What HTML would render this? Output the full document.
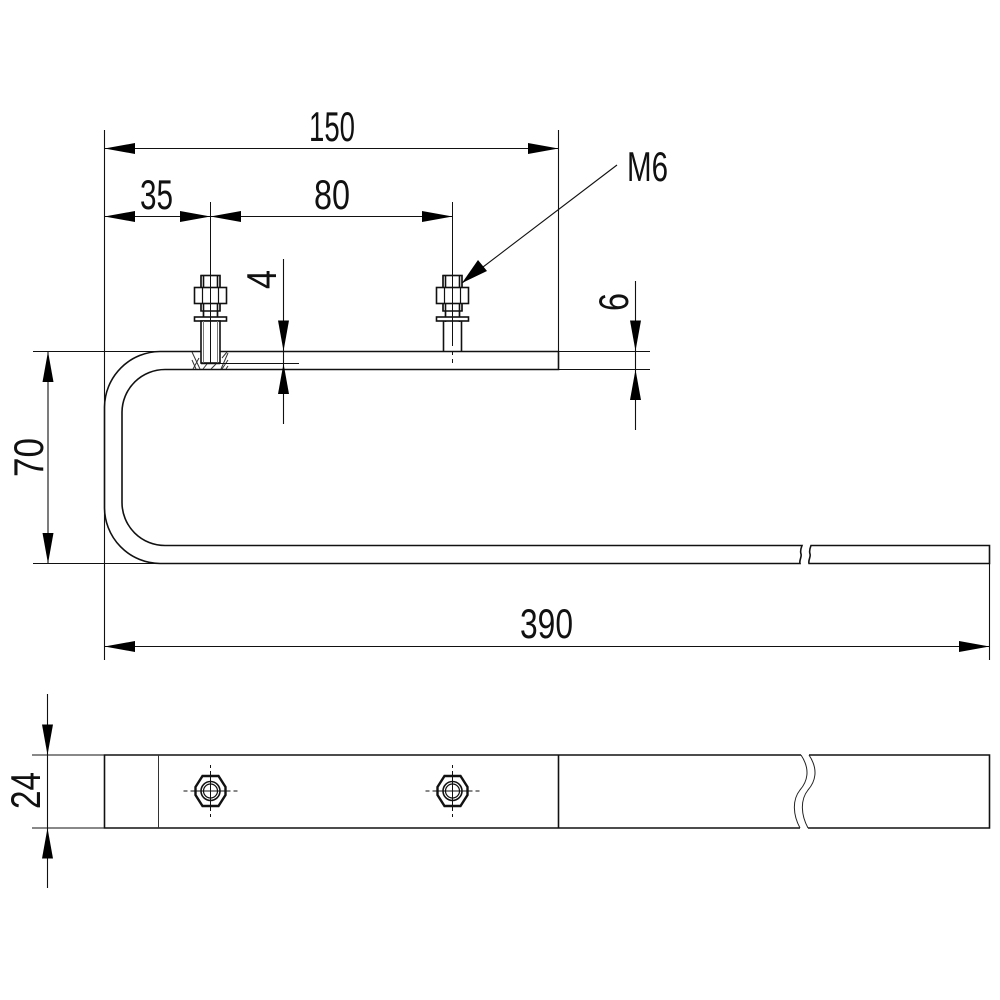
<!DOCTYPE html>
<html><head><meta charset="utf-8"><style>html,body{margin:0;padding:0;background:#fff}svg{display:block}text{font-family:"Liberation Sans",sans-serif;font-size:42px;fill:#111}</style></head><body>
<svg width="1000" height="1000" viewBox="0 0 1000 1000" xmlns="http://www.w3.org/2000/svg">
<defs>
<g id="bolt" fill="none" stroke="#111">
<path stroke-width="1.6" d="M-9.5 -75.5H9.5V-40H-9.5ZM-7 -75.5V-29M7 -75.5V-29M-7 -40H7"/>
<rect x="-16" y="-63.5" width="32" height="16" fill="#fff" stroke-width="1.6"/>
<path stroke-width="1.2" d="M-8 -63.5V-47.5M8 -63.5V-47.5M-9.5 -75.5H9.5V-63.5M-9.5 -75.5V-63.5M-9.5 -47.5V-40M9.5 -47.5V-40M-7 -40V-34M7 -40V-34"/>
<rect x="-16" y="-34" width="32" height="4" fill="#fff" stroke-width="1.6"/>
</g>
<g id="plan" fill="none" stroke="#111">
<path stroke-width="2.4" d="M-15 -4L-8 -15H8L15 -4V4L8 15H-8L-15 4Z"/>
<circle r="9.5" stroke-width="1.6"/><circle r="7" stroke-width="1.2"/>
<path stroke-width="1" d="M-27 0H-23M-20 0H20M23 0H27M0 -26V-23M0 -20V20M0 23V26"/>
</g>
</defs>

<!-- top view outline -->
<g fill="none" stroke="#111" stroke-width="1.6">
<path d="M558.5 351.5H160A56 56 0 0 0 104.5 407V507A56 56 0 0 0 160 563.5H800C799 560 802 557 801 554C800 551 801 548 802 545.5H165A43 43 0 0 1 122 502.5V412A43 43 0 0 1 165 369.5H558.5Z"/>
<path d="M989.5 545.5H811C810 548 809 551 810 554C811 557 808 560 809 563.5H989.5Z"/>
</g>

<!-- bottom view -->
<g fill="none" stroke="#111" stroke-width="1.6">
<path d="M801 755H104.5V828H800"/>
<path d="M809 755H989.5V828H808"/>
<path d="M558.5 755V828"/>
</g>
<path d="M158.5 755V828" stroke="#333" stroke-width="1" fill="none"/>
<g fill="none" stroke="#222" stroke-width="1">
<path d="M801 755C811 770 807 782 800 790C792 800 793 815 800 828"/>
<path d="M809 755C819 770 815 782 808 790C800 800 801 815 808 828"/>
</g>
<use href="#plan" x="210.5" y="791"/>
<use href="#plan" x="452.5" y="791"/>

<!-- bolts -->
<use href="#bolt" x="210.5" y="351"/>
<use href="#bolt" x="452.5" y="351"/>
<rect x="201" y="321" width="19" height="42" fill="#fff" stroke="#111" stroke-width="1.6"/>
<path d="M203.5 321V363M217.5 321V363" stroke="#777" stroke-width="1" fill="none"/>
<path d="M443.5 321V351M461.5 321V351" stroke="#111" stroke-width="1.6" fill="none"/>
<path d="M201 363.5H220" stroke="#111" stroke-width="1.6"/>
<g fill="none" stroke="#333" stroke-width="1">
<path d="M192 352L200 369M193 369L199 358M221 369L228 353M222 358L227 352M222 369L228 360M226 369L228 366M203 369L207 364M211 369L216 364M192 360L196 369"/>
</g>

<!-- center lines -->
<g stroke="#111" stroke-width="1" fill="none">
<path d="M210.5 202V363"/>
<path d="M452.5 202V346M452.5 351V355M452.5 359V363"/>
</g>

<!-- dimension lines -->
<g stroke="#111" stroke-width="1.1" fill="none">
<path d="M104.5 130V660"/>
<path d="M558.5 130V351"/>
<path d="M989.5 563V660"/>
<path d="M104.5 148.5H558.5"/>
<path d="M104.5 216.5H452.5"/>
<path d="M104.5 646.5H989.5"/>
<path d="M283.5 259V424"/>
<path d="M635.5 281V430"/>
<path d="M48 351.5V563.5"/>
<path d="M47.5 694V888"/>
<path d="M220 363.5H299"/>
<path d="M558 351.5H650M558 369.5H650"/>
<path d="M33 351.5H160M33 563.5H160"/>
<path d="M32 755H104M32 828H104"/>
<path d="M617 165L462 283"/>
</g>

<!-- arrowheads -->
<g fill="#000">
<path d="M104.5 148.5L135 143V154Z"/>
<path d="M558.5 148.5L528 143V154Z"/>
<path d="M104.5 216.5L135 211V222Z"/>
<path d="M210.5 216.5L180 211V222Z"/>
<path d="M210.5 216.5L241 211V222Z"/>
<path d="M452.5 216.5L422 211V222Z"/>
<path d="M104.5 646.5L135 641V652Z"/>
<path d="M989.5 646.5L959 641V652Z"/>
<path d="M283.5 351L278 320.5H289Z"/>
<path d="M283.5 363.5L278 394H289Z"/>
<path d="M635.5 351L630 320.5H641Z"/>
<path d="M635.5 369.5L630 400H641Z"/>
<path d="M48 351.5L42.5 382H53.5Z"/>
<path d="M48 563.5L42.5 533H53.5Z"/>
<path d="M47.5 755L42 724.5H53Z"/>
<path d="M47.5 828L42 858.5H53Z"/>
<path d="M462 283L478 260L487 271Z"/>
</g>

<!-- labels -->
<text x="309" y="141" textLength="46" lengthAdjust="spacingAndGlyphs">150</text>
<text x="140" y="209" textLength="33" lengthAdjust="spacingAndGlyphs">35</text>
<text x="314" y="209" textLength="36" lengthAdjust="spacingAndGlyphs">80</text>
<text x="627" y="181" textLength="41" lengthAdjust="spacingAndGlyphs">M6</text>
<text x="520" y="638" textLength="53" lengthAdjust="spacingAndGlyphs">390</text>
<text transform="translate(276,289) rotate(-90)" textLength="19" lengthAdjust="spacingAndGlyphs">4</text>
<text transform="translate(628,311) rotate(-90)" textLength="18" lengthAdjust="spacingAndGlyphs">6</text>
<text transform="translate(43,477) rotate(-90)" textLength="39" lengthAdjust="spacingAndGlyphs">70</text>
<text transform="translate(40,809) rotate(-90)" textLength="37" lengthAdjust="spacingAndGlyphs">24</text>
</svg>
</body></html>
